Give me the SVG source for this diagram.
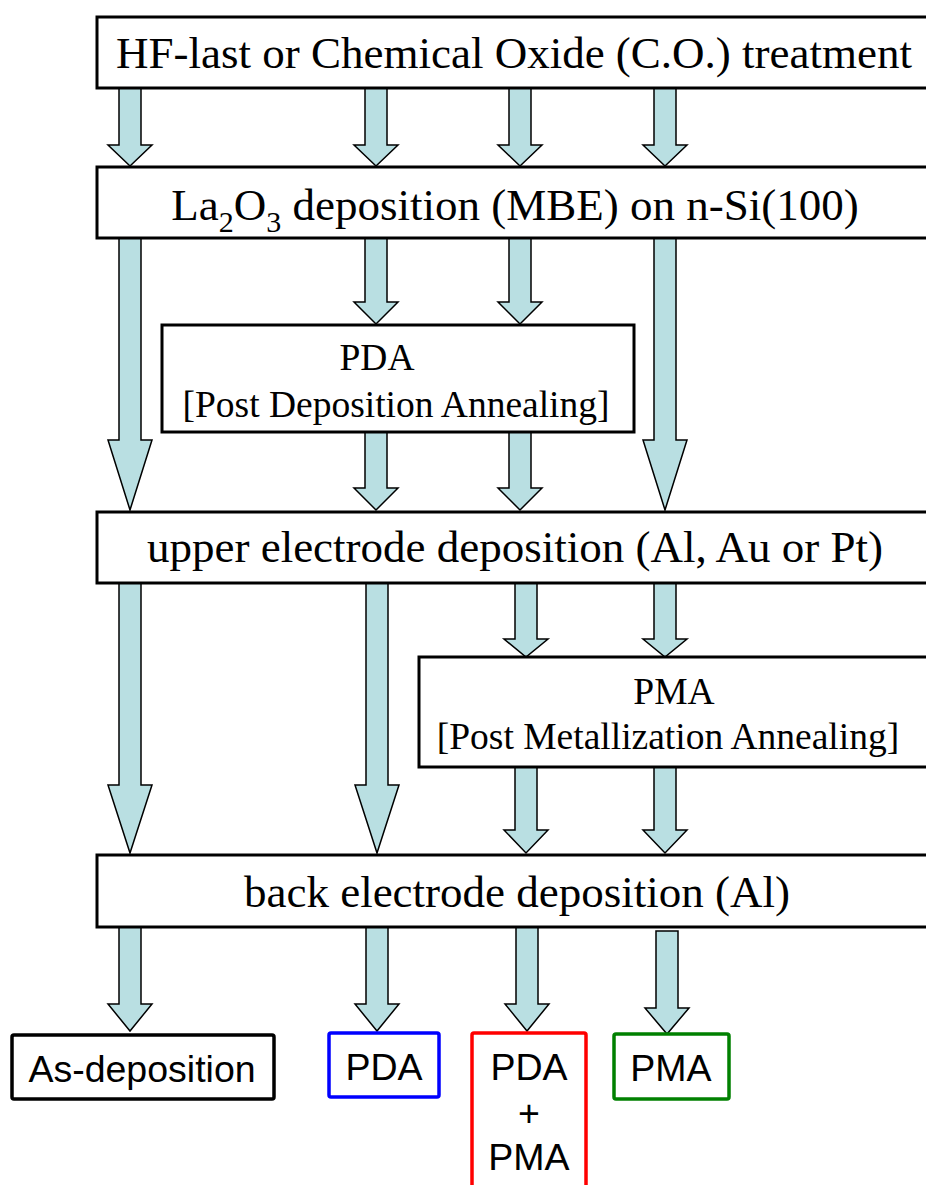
<svg xmlns="http://www.w3.org/2000/svg" width="926" height="1185" viewBox="0 0 926 1185">
<style>
.box{fill:#fff;stroke:#000;stroke-width:3}
.arr{fill:#b9dfe2;stroke:#000;stroke-width:1.5;stroke-linejoin:miter}
.t{font-family:"Liberation Serif","Times New Roman",serif;font-size:45px;fill:#000;text-anchor:middle}
.m{font-family:"Liberation Serif","Times New Roman",serif;font-size:37.5px;fill:#000;text-anchor:middle}
.s{font-family:"Liberation Sans",Arial,sans-serif;font-size:37.5px;fill:#000;text-anchor:middle}
.res{fill:#fff;stroke-width:3.5}
</style>
<rect width="926" height="1185" fill="#fff"/>
<g id="connectors">
<polygon class="arr" points="119,88 141,88 141,145 152,145 130,166 108,145 119,145"/>
<polygon class="arr" points="365,88 387,88 387,145 398,145 376,166 354,145 365,145"/>
<polygon class="arr" points="509,88 531,88 531,145 542,145 520,166 498,145 509,145"/>
<polygon class="arr" points="654,88 676,88 676,145 687,145 665,166 643,145 654,145"/>
<polygon class="arr" points="119,238 141,238 141,440 152,440 130,510 108,440 119,440"/>
<polygon class="arr" points="365,238 387,238 387,302 398,302 376,324 354,302 365,302"/>
<polygon class="arr" points="509,238 531,238 531,302 542,302 520,324 498,302 509,302"/>
<polygon class="arr" points="654,238 676,238 676,440 687,440 665,510 643,440 654,440"/>
<polygon class="arr" points="365,432 387,432 387,488 398,488 376,510 354,488 365,488"/>
<polygon class="arr" points="509,432 531,432 531,488 542,488 520,510 498,488 509,488"/>
<polygon class="arr" points="119,583 141,583 141,785 152,785 130,853 108,785 119,785"/>
<polygon class="arr" points="366,583 388,583 388,785 399,785 377,853 355,785 366,785"/>
<polygon class="arr" points="515,583 537,583 537,639 548,639 526,657 504,639 515,639"/>
<polygon class="arr" points="654,583 676,583 676,639 687,639 665,657 643,639 654,639"/>
<polygon class="arr" points="515,767 537,767 537,830 548,830 526,853 504,830 515,830"/>
<polygon class="arr" points="654,767 676,767 676,830 687,830 665,853 643,830 654,830"/>
<polygon class="arr" points="119,927 141,927 141,1004 152,1004 130,1031 108,1004 119,1004"/>
<polygon class="arr" points="366,927 388,927 388,1004 399,1004 377,1031 355,1004 366,1004"/>
<polygon class="arr" points="516,927 538,927 538,1004 549,1004 527,1031 505,1004 516,1004"/>
<polygon class="arr" points="656,931 678,931 678,1008 689,1008 667,1034 645,1008 656,1008"/>
</g>
<g id="node-hf">
<rect class="box" x="97" y="17" width="860" height="71"/>
<text class="t" x="514" y="68">HF-last or Chemical Oxide (C.O.) treatment</text>
</g>
<g id="node-la2o3">
<rect class="box" x="97" y="167" width="860" height="71"/>
<text class="t" x="515" y="220">La<tspan font-size="30" dy="12">2</tspan><tspan dy="-12">O</tspan><tspan font-size="30" dy="12">3</tspan><tspan dy="-12"> deposition (MBE) on n-Si(100)</tspan></text>
</g>
<g id="node-pda">
<rect class="box" x="162" y="325" width="472" height="107"/>
<text class="m" x="377" y="370">PDA</text>
<text class="m" x="396" y="417">[Post Deposition Annealing]</text>
</g>
<g id="node-upper">
<rect class="box" x="97" y="512" width="860" height="71"/>
<text class="t" x="515" y="562">upper electrode deposition (Al, Au or Pt)</text>
</g>
<g id="node-pma">
<rect class="box" x="419" y="657" width="530" height="110"/>
<text class="m" x="674" y="704">PMA</text>
<text class="m" x="668" y="749">[Post Metallization Annealing]</text>
</g>
<g id="node-back">
<rect class="box" x="97" y="855" width="860" height="72"/>
<text class="t" x="517" y="907">back electrode deposition (Al)</text>
</g>
<g id="result-asdep">
<rect class="res" x="12" y="1035" width="262" height="64" rx="2" stroke="#000"/>
<text class="s" x="142" y="1082">As-deposition</text>
</g>
<g id="result-pda">
<rect class="res" x="329" y="1033" width="110" height="64" rx="2" stroke="#0000ff"/>
<text class="s" x="384" y="1080">PDA</text>
</g>
<g id="result-pdapma">
<rect class="res" x="472" y="1033" width="114" height="200" rx="2" stroke="#ff0000"/>
<text class="s" x="529" y="1080">PDA</text>
<text class="s" x="529" y="1126">+</text>
<text class="s" x="529" y="1170">PMA</text>
</g>
<g id="result-pma">
<rect class="res" x="614" y="1034" width="115" height="65" rx="2" stroke="#008000"/>
<text class="s" x="671" y="1081">PMA</text>
</g>
</svg>
